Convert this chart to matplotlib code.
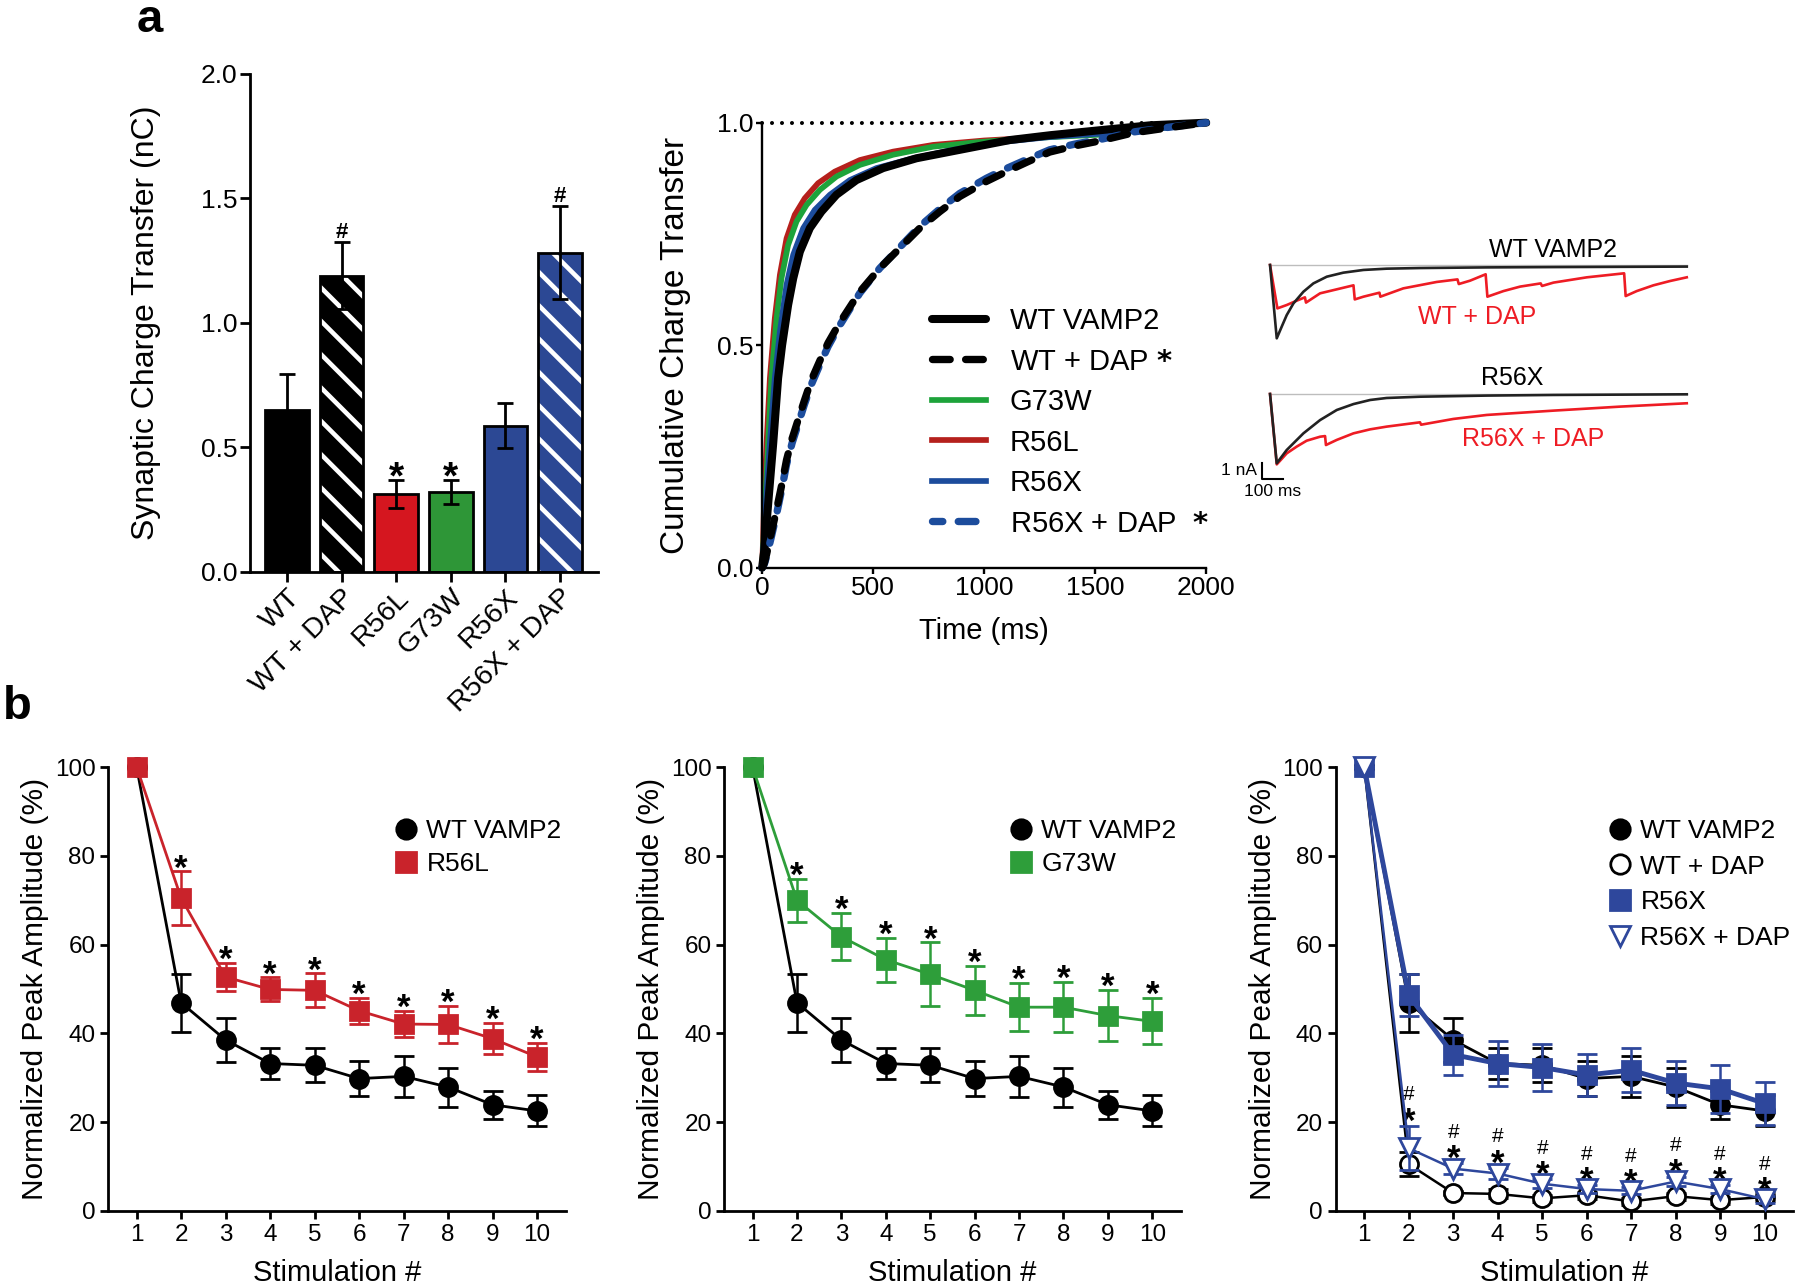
import numpy as np
import matplotlib
matplotlib.use("Agg")
import matplotlib.pyplot as plt
from matplotlib.lines import Line2D

plt.rcParams['font.family'] = ['Liberation Sans', 'DejaVu Sans']
plt.rcParams['hatch.linewidth'] = 3.3
plt.rcParams['axes.linewidth'] = 2

# ---- panel a, bar chart ----
bar_labels = ['WT', 'WT + DAP', 'R56L', 'G73W', 'R56X', 'R56X + DAP']
bar_means = [0.649, 1.189, 0.31, 0.319, 0.586, 1.281]
bar_sems = [0.144, 0.133, 0.056, 0.047, 0.09, 0.188]
bar_marks = ['', '#', '*', '*', '', '#']

# ---- panel a, cumulative charge transfer ----
cum_t_wt = [0, 10, 20, 35, 50, 72, 90, 117, 140, 170, 215, 267, 335, 425, 545, 695, 890, 1116, 1300, 1520, 1745, 2000]
cum_wt = [0, 0.04, 0.10, 0.19, 0.28, 0.426, 0.50, 0.59, 0.65, 0.71, 0.763, 0.80, 0.838, 0.871, 0.898, 0.92, 0.939,
          0.961, 0.972, 0.983, 0.994, 1.0]
cum_t_g73w = [0, 6, 12, 20, 27, 42, 65, 87, 117, 155, 200, 260, 335, 440, 590, 770, 966, 1200, 1520, 1750, 2000]
cum_g73w = [0, 0.06, 0.13, 0.21, 0.28, 0.426, 0.56, 0.65, 0.725, 0.778, 0.815, 0.849, 0.879, 0.905, 0.928, 0.946,
            0.956, 0.965, 0.973, 0.985, 1.0]
cum_t_r56l = [0, 4, 8, 14, 20, 35, 57, 80, 110, 147, 192, 252, 327, 440, 590, 770, 1000, 1250, 1500, 1800, 2000]
cum_r56l = [0, 0.06, 0.13, 0.21, 0.28, 0.426, 0.56, 0.658, 0.74, 0.793, 0.83, 0.864, 0.89, 0.916, 0.935, 0.95,
            0.96, 0.967, 0.975, 0.99, 1.0]
cum_t_r56x = [0, 8, 15, 25, 35, 57, 80, 110, 140, 185, 237, 305, 395, 515, 680, 860, 1050, 1300, 1600, 1850, 2000]
cum_r56x = [0, 0.06, 0.13, 0.21, 0.28, 0.426, 0.53, 0.636, 0.703, 0.763, 0.804, 0.838, 0.871, 0.898, 0.92, 0.939,
            0.955, 0.968, 0.978, 0.99, 1.0]
cum_t_dap = [0, 10, 20, 40, 65, 90, 110, 135, 162, 190, 222, 260, 297, 350, 440, 530, 620, 710, 800, 890, 1010,
             1100, 1200, 1295, 1410, 1520, 1670, 1850, 2000]
cum_wtdap = [0, 0.01, 0.03, 0.075, 0.13, 0.19, 0.242, 0.29, 0.332, 0.375, 0.422, 0.465, 0.505, 0.551, 0.62, 0.673,
             0.718, 0.763, 0.80, 0.834, 0.868, 0.89, 0.913, 0.934, 0.948, 0.959, 0.977, 0.99, 1.0]
cum_r56xdap = [0, 0.008, 0.025, 0.066, 0.12, 0.18, 0.232, 0.28, 0.322, 0.366, 0.412, 0.456, 0.497, 0.545, 0.617,
               0.673, 0.72, 0.767, 0.806, 0.841, 0.875, 0.897, 0.919, 0.939, 0.952, 0.962, 0.979, 0.991, 1.0]

# ---- panel a, example traces (ms, nA) ----
tr_t_wt = [0, 31, 54, 77, 108, 154, 200, 262, 338, 431, 538, 692, 1000, 1308, 1923]
tr_i_wt = [0, -4.58, -3.85, -3.13, -2.40, -1.67, -1.15, -0.73, -0.48, -0.31, -0.23, -0.19, -0.15, -0.13, -0.10]
tr_t_wtdap = [0, 34, 77, 123, 161, 166, 231, 308, 385, 391, 431, 505, 509, 615, 769, 865, 871, 923,
              995, 1003, 1077, 1154, 1249, 1255, 1308, 1462, 1634, 1641, 1692, 1769, 1846, 1923]
tr_i_wtdap = [0, -2.71, -2.50, -2.23, -2.02, -2.35, -1.77, -1.52, -1.27, -2.15, -1.98, -1.73, -1.98, -1.46,
              -1.06, -0.90, -1.19, -0.98, -0.58, -1.98, -1.63, -1.35, -1.15, -1.31, -1.10, -0.77, -0.52,
              -1.94, -1.63, -1.27, -1.00, -0.77]
tr_t_r56x = [0, 31, 77, 154, 231, 308, 385, 462, 538, 692, 1000, 1308, 1923]
tr_i_r56x = [0, -4.33, -3.50, -2.46, -1.63, -1.00, -0.63, -0.375, -0.25, -0.17, -0.10, -0.06, -0.02]
tr_t_r56xdap = [0, 31, 77, 123, 169, 231, 254, 258, 308, 385, 462, 538, 692, 697, 846, 1000, 1308, 1615, 1923]
tr_i_r56xdap = [0, -4.40, -3.71, -3.29, -2.92, -2.67, -2.63, -3.19, -2.87, -2.46, -2.21, -2.04, -1.77,
                -1.92, -1.56, -1.31, -1.04, -0.79, -0.58]

# ---- panel b, normalized peak amplitude ----
stim = [1, 2, 3, 4, 5, 6, 7, 8, 9, 10]
wt_mean = [100, 46.9, 38.5, 33.2, 32.8, 29.8, 30.3, 27.9, 23.9, 22.5]
wt_sem = [0, 6.5, 5.0, 3.5, 3.8, 4.0, 4.7, 4.4, 3.1, 3.5]
r56l_mean = [100, 70.5, 52.7, 49.9, 49.7, 45.1, 42.1, 42.0, 38.8, 34.7]
r56l_sem = [0, 6.0, 3.2, 2.7, 3.8, 2.9, 3.0, 4.1, 3.5, 3.2]
g73w_mean = [100, 70.0, 61.8, 56.6, 53.3, 49.7, 45.9, 45.9, 44.0, 42.7]
g73w_sem = [0, 4.8, 5.3, 5.0, 7.2, 5.5, 5.4, 5.7, 5.7, 5.2]
r56x_mean = [100, 48.6, 35.2, 33.2, 32.3, 30.6, 31.7, 28.8, 27.5, 24.2]
r56x_sem = [0, 4.7, 4.5, 5.0, 5.2, 4.7, 4.9, 5.0, 5.4, 4.8]
wtdap_mean = [100, 10.5, 4.0, 3.8, 2.8, 3.5, 2.1, 3.3, 2.4, 3.1]
wtdap_sem = [0, 2.7, 0.5, 1.0, 0.8, 0.8, 0.8, 0.8, 0.8, 0.8]
r56xdap_mean = [100, 14.1, 9.5, 8.4, 6.1, 4.9, 4.5, 6.6, 4.9, 2.6]
r56xdap_sem = [0, 5.0, 1.2, 1.2, 1.0, 0.8, 0.8, 1.0, 0.8, 0.8]

RED_BAR, GREEN_BAR, BLUE_BAR = '#D5161F', '#2E9637', '#2C4894'
RED_CUM, GREEN_CUM, BLUE_CUM = '#B5201C', '#1DA33A', '#1C4C9C'
RED_B, GREEN_B, BLUE_B = '#C9232B', '#2E9E3A', '#2E479C'
TRACE_RED = '#EE1C24'

fig = plt.figure(figsize=(18, 12.86), dpi=100)


def style_axes(ax, lw, ticklen, pad, size):
    ax.spines['top'].set_visible(False)
    ax.spines['right'].set_visible(False)
    ax.spines['left'].set_linewidth(lw)
    ax.spines['bottom'].set_linewidth(lw)
    ax.tick_params(direction='out', length=ticklen, width=lw, pad=pad, labelsize=size)


# Bar chart
ax1 = fig.add_axes([0.1389, 0.5555, 0.1933, 0.3873])
xpos = np.arange(len(bar_labels))
face = ['black', 'black', RED_BAR, GREEN_BAR, BLUE_BAR, BLUE_BAR]
hatched = [False, True, False, False, False, True]
for i in range(len(bar_labels)):
    if hatched[i]:
        ax1.bar(xpos[i], bar_means[i], 0.8, color=face[i], edgecolor='white', hatch='\\', linewidth=0)
        ax1.bar(xpos[i], bar_means[i], 0.8, fill=False, edgecolor='black', linewidth=2)
    else:
        ax1.bar(xpos[i], bar_means[i], 0.8, color=face[i], edgecolor='black', linewidth=2)
ax1.errorbar(xpos, bar_means, yerr=bar_sems, fmt='none', ecolor='black', elinewidth=2,
             capsize=6, capthick=2, zorder=4)
for i in range(len(bar_labels)):
    if bar_marks[i]:
        top = bar_means[i] + bar_sems[i]
        if bar_marks[i] == '*':
            ax1.annotate('*', (xpos[i], top), xytext=(0, -6), textcoords='offset points',
                         ha='center', va='baseline', fontsize=28, fontweight='bold')
        else:
            ax1.annotate('#', (xpos[i], top), xytext=(0, 3), textcoords='offset points',
                         ha='center', va='baseline', fontsize=16, fontweight='bold')
ax1.set_xlim(-0.678, 5.696)
ax1.set_ylim(0, 2.0)
ax1.set_yticks([0, 0.5, 1.0, 1.5, 2.0])
ax1.set_yticklabels(['0.0', '0.5', '1.0', '1.5', '2.0'])
ax1.set_xticks(xpos)
style_axes(ax1, 2, 7, 2, 19)
ax1.set_xticklabels(bar_labels, rotation=45, ha='right', rotation_mode='anchor', fontsize=20.5)
ax1.set_ylabel('Synaptic Charge Transfer (nC)', fontsize=23)
ax1.yaxis.set_label_coords(-0.256, 0.5)

# Cumulative charge transfer
ax2 = fig.add_axes([0.4234, 0.5586, 0.2467, 0.346])
ax2.plot([0, 2000], [1, 1], color='black', lw=2.9, linestyle=(0, (0.01, 2.47)),
         dash_capstyle='round', clip_on=False)
l_r56l, = ax2.plot(cum_t_r56l, cum_r56l, color=RED_CUM, lw=4.1, label='R56L', clip_on=False,
                   solid_joinstyle='round')
l_g73w, = ax2.plot(cum_t_g73w, cum_g73w, color=GREEN_CUM, lw=4.1, label='G73W', clip_on=False,
                   solid_joinstyle='round')
l_r56x, = ax2.plot(cum_t_r56x, cum_r56x, color=BLUE_CUM, lw=4.1, label='R56X', clip_on=False,
                   solid_joinstyle='round')
l_wt, = ax2.plot(cum_t_wt, cum_wt, color='black', lw=5.8, label='WT VAMP2', clip_on=False,
                 solid_capstyle='round', solid_joinstyle='round')
l_r56xdap, = ax2.plot(cum_t_dap, cum_r56xdap, color=BLUE_CUM, lw=5.3,
                      linestyle=(1.0, (2.4, 2.1)), dash_capstyle='round', dash_joinstyle='round',
                      label=r'R56X + DAP  $\mathbf{*}$', clip_on=False)
l_wtdap, = ax2.plot(cum_t_dap, cum_wtdap, color='black', lw=5.3, linestyle=(0, (2.4, 2.1)),
                    dash_capstyle='round', dash_joinstyle='round',
                    label=r'WT + DAP $\mathbf{*}$', clip_on=False)
ax2.set_xlim(0, 2000)
ax2.set_ylim(0, 1)
ax2.set_xticks([0, 500, 1000, 1500, 2000])
ax2.set_yticks([0, 0.5, 1.0])
ax2.set_yticklabels(['0.0', '0.5', '1.0'])
style_axes(ax2, 1.7, 4, 2, 19)
ax2.set_ylabel('Cumulative Charge Transfer', fontsize=24)
ax2.yaxis.set_label_coords(-0.16, 0.5)
ax2.set_xlabel('Time (ms)', fontsize=21)
ax2.xaxis.set_label_coords(0.5, -0.112)
leg_handles = [l_wt, l_wtdap, l_g73w, l_r56l, l_r56x, l_r56xdap]
ax2.legend(handles=leg_handles, loc='upper left', bbox_to_anchor=(932 / 1800, 1 - 307 / 1286),
           bbox_transform=fig.transFigure, frameon=False, fontsize=21, handlelength=1.84,
           handletextpad=0.82, labelspacing=0.43, borderpad=0, borderaxespad=0)

# Example traces
ax3 = fig.add_axes([0.7028, 0.7317, 0.2361, 0.0778])
ax3.plot([0, 1923], [0, 0], color='#BDBDBD', lw=1)
ax3.plot(tr_t_wtdap, tr_i_wtdap, color=TRACE_RED, lw=1.9)
ax3.plot(tr_t_wt, tr_i_wt, color='#222222', lw=1.9)
ax3.set_xlim(-23, 1938)
ax3.set_ylim(-5.0, 1.25)
ax3.text(1306, 0.94, 'WT VAMP2', fontsize=18, ha='center', va='center')
ax3.text(955, -3.25, 'WT + DAP', fontsize=18, ha='center', va='center', color=TRACE_RED)
ax3.axis('off')

ax4 = fig.add_axes([0.7028, 0.6112, 0.2361, 0.1011])
ax4.plot([0, 1923], [0, 0], color='#BDBDBD', lw=1)
ax4.plot(tr_t_r56xdap, tr_i_r56xdap, color=TRACE_RED, lw=1.9)
ax4.plot(tr_t_r56x, tr_i_r56x, color='#222222', lw=1.9)
ax4.set_xlim(-23, 1938)
ax4.set_ylim(-6.625, 1.5)
ax4.text(1117, 1.0, 'R56X', fontsize=18, ha='center', va='center')
ax4.text(1214, -2.81, 'R56X + DAP', fontsize=18, ha='center', va='center', color=TRACE_RED)
# scale bar 1 nA / 100 ms
ax4.plot([-38, -38, 62], [-4.3, -5.3, -5.3], color='black', lw=1.5, clip_on=False)
ax4.text(-60, -4.8, '1 nA', fontsize=12.5, ha='right', va='center')
ax4.text(12, -6.1, '100 ms', fontsize=12.5, ha='center', va='center')
ax4.axis('off')


# ---- panel b ----
def amp_panel(ax):
    ax.set_xlim(0.364, 10.645)
    ax.set_ylim(0, 100)
    ax.set_xticks(stim)
    ax.set_yticks([0, 20, 40, 60, 80, 100])
    style_axes(ax, 2, 6, 3.3, 17.5)
    ax.set_ylabel('Normalized Peak Amplitude (%)', fontsize=21.5)
    ax.yaxis.set_label_coords(-0.13, 0.5)
    ax.set_xlabel('Stimulation #', fontsize=21)
    ax.xaxis.set_label_coords(0.5, -0.108)


def series(ax, mean, sem, color, marker, ms, lw, mfc=None, z=3):
    if mfc is None:
        mfc = color
    ax.errorbar(stim, mean, yerr=sem, color=color, lw=lw, marker=marker, ms=ms, mfc=mfc,
                mec=color, mew=2, elinewidth=1.8, capsize=7.5, capthick=1.8, clip_on=False, zorder=z)


def stars(ax, mean, sem):
    for i in range(1, len(stim)):
        ax.annotate('*', (stim[i], mean[i] + sem[i]), xytext=(0, -5), textcoords='offset points',
                    ha='center', va='baseline', fontsize=25, fontweight='bold')


def marker_handle(marker, color, mfc):
    return Line2D([], [], ls='none', marker=marker, ms=14, color=color, mfc=mfc, mec=color, mew=2)


def amp_legend(ax, handles, labels, x0, spacing):
    ax.legend(handles=handles, labels=labels, loc='upper left',
              bbox_to_anchor=(x0 / 1800, 1 - 819 / 1286), bbox_transform=fig.transFigure,
              frameon=False, fontsize=19, handlelength=0.8, handletextpad=0.39,
              labelspacing=spacing, borderpad=0, borderaxespad=0)


ax5 = fig.add_axes([0.0602, 0.0585, 0.2541, 0.3449])
series(ax5, wt_mean, wt_sem, 'black', 'o', 13, 2)
series(ax5, r56l_mean, r56l_sem, RED_B, 's', 13, 2)
stars(ax5, r56l_mean, r56l_sem)
amp_panel(ax5)
amp_legend(ax5, [marker_handle('o', 'black', 'black'), marker_handle('s', RED_B, RED_B)],
           ['WT VAMP2', 'R56L'], 395, 0.34)

ax6 = fig.add_axes([0.4024, 0.0585, 0.2537, 0.3449])
series(ax6, wt_mean, wt_sem, 'black', 'o', 13, 2)
series(ax6, g73w_mean, g73w_sem, GREEN_B, 's', 13, 2)
stars(ax6, g73w_mean, g73w_sem)
amp_panel(ax6)
amp_legend(ax6, [marker_handle('o', 'black', 'black'), marker_handle('s', GREEN_B, GREEN_B)],
           ['WT VAMP2', 'G73W'], 1010, 0.34)

ax7 = fig.add_axes([0.7422, 0.0585, 0.2541, 0.3449])
series(ax7, wt_mean, wt_sem, 'black', 'o', 13, 2, z=3)
series(ax7, wtdap_mean, wtdap_sem, 'black', 'o', 13, 1.8, mfc='white', z=3)
series(ax7, r56x_mean, r56x_sem, BLUE_B, 's', 13, 3.5, z=4)
series(ax7, r56xdap_mean, r56xdap_sem, BLUE_B, 'v', 14, 1.8, mfc='white', z=4)
for i in range(1, len(stim)):
    top = r56xdap_mean[i] + r56xdap_sem[i]
    ax7.annotate('*', (stim[i], top), xytext=(0, -4), textcoords='offset points',
                 ha='center', va='baseline', fontsize=25, fontweight='bold')
    ax7.annotate('#', (stim[i], top), xytext=(0, 18.5), textcoords='offset points',
                 ha='center', va='baseline', fontsize=15)
amp_panel(ax7)
amp_legend(ax7, [marker_handle('o', 'black', 'black'), marker_handle('o', 'black', 'white'),
                 marker_handle('s', BLUE_B, BLUE_B), marker_handle('v', BLUE_B, 'white')],
           ['WT VAMP2', 'WT + DAP', 'R56X', 'R56X + DAP'], 1609, 0.44)

fig.text(150 / 1800, 1 - 20 / 1286, 'a', fontsize=34, fontweight='bold', ha='center', va='center')
fig.text(17 / 1800, 1 - 707 / 1286, 'b', fontsize=34, fontweight='bold', ha='center', va='center')

fig.savefig('out.png', dpi=100)
